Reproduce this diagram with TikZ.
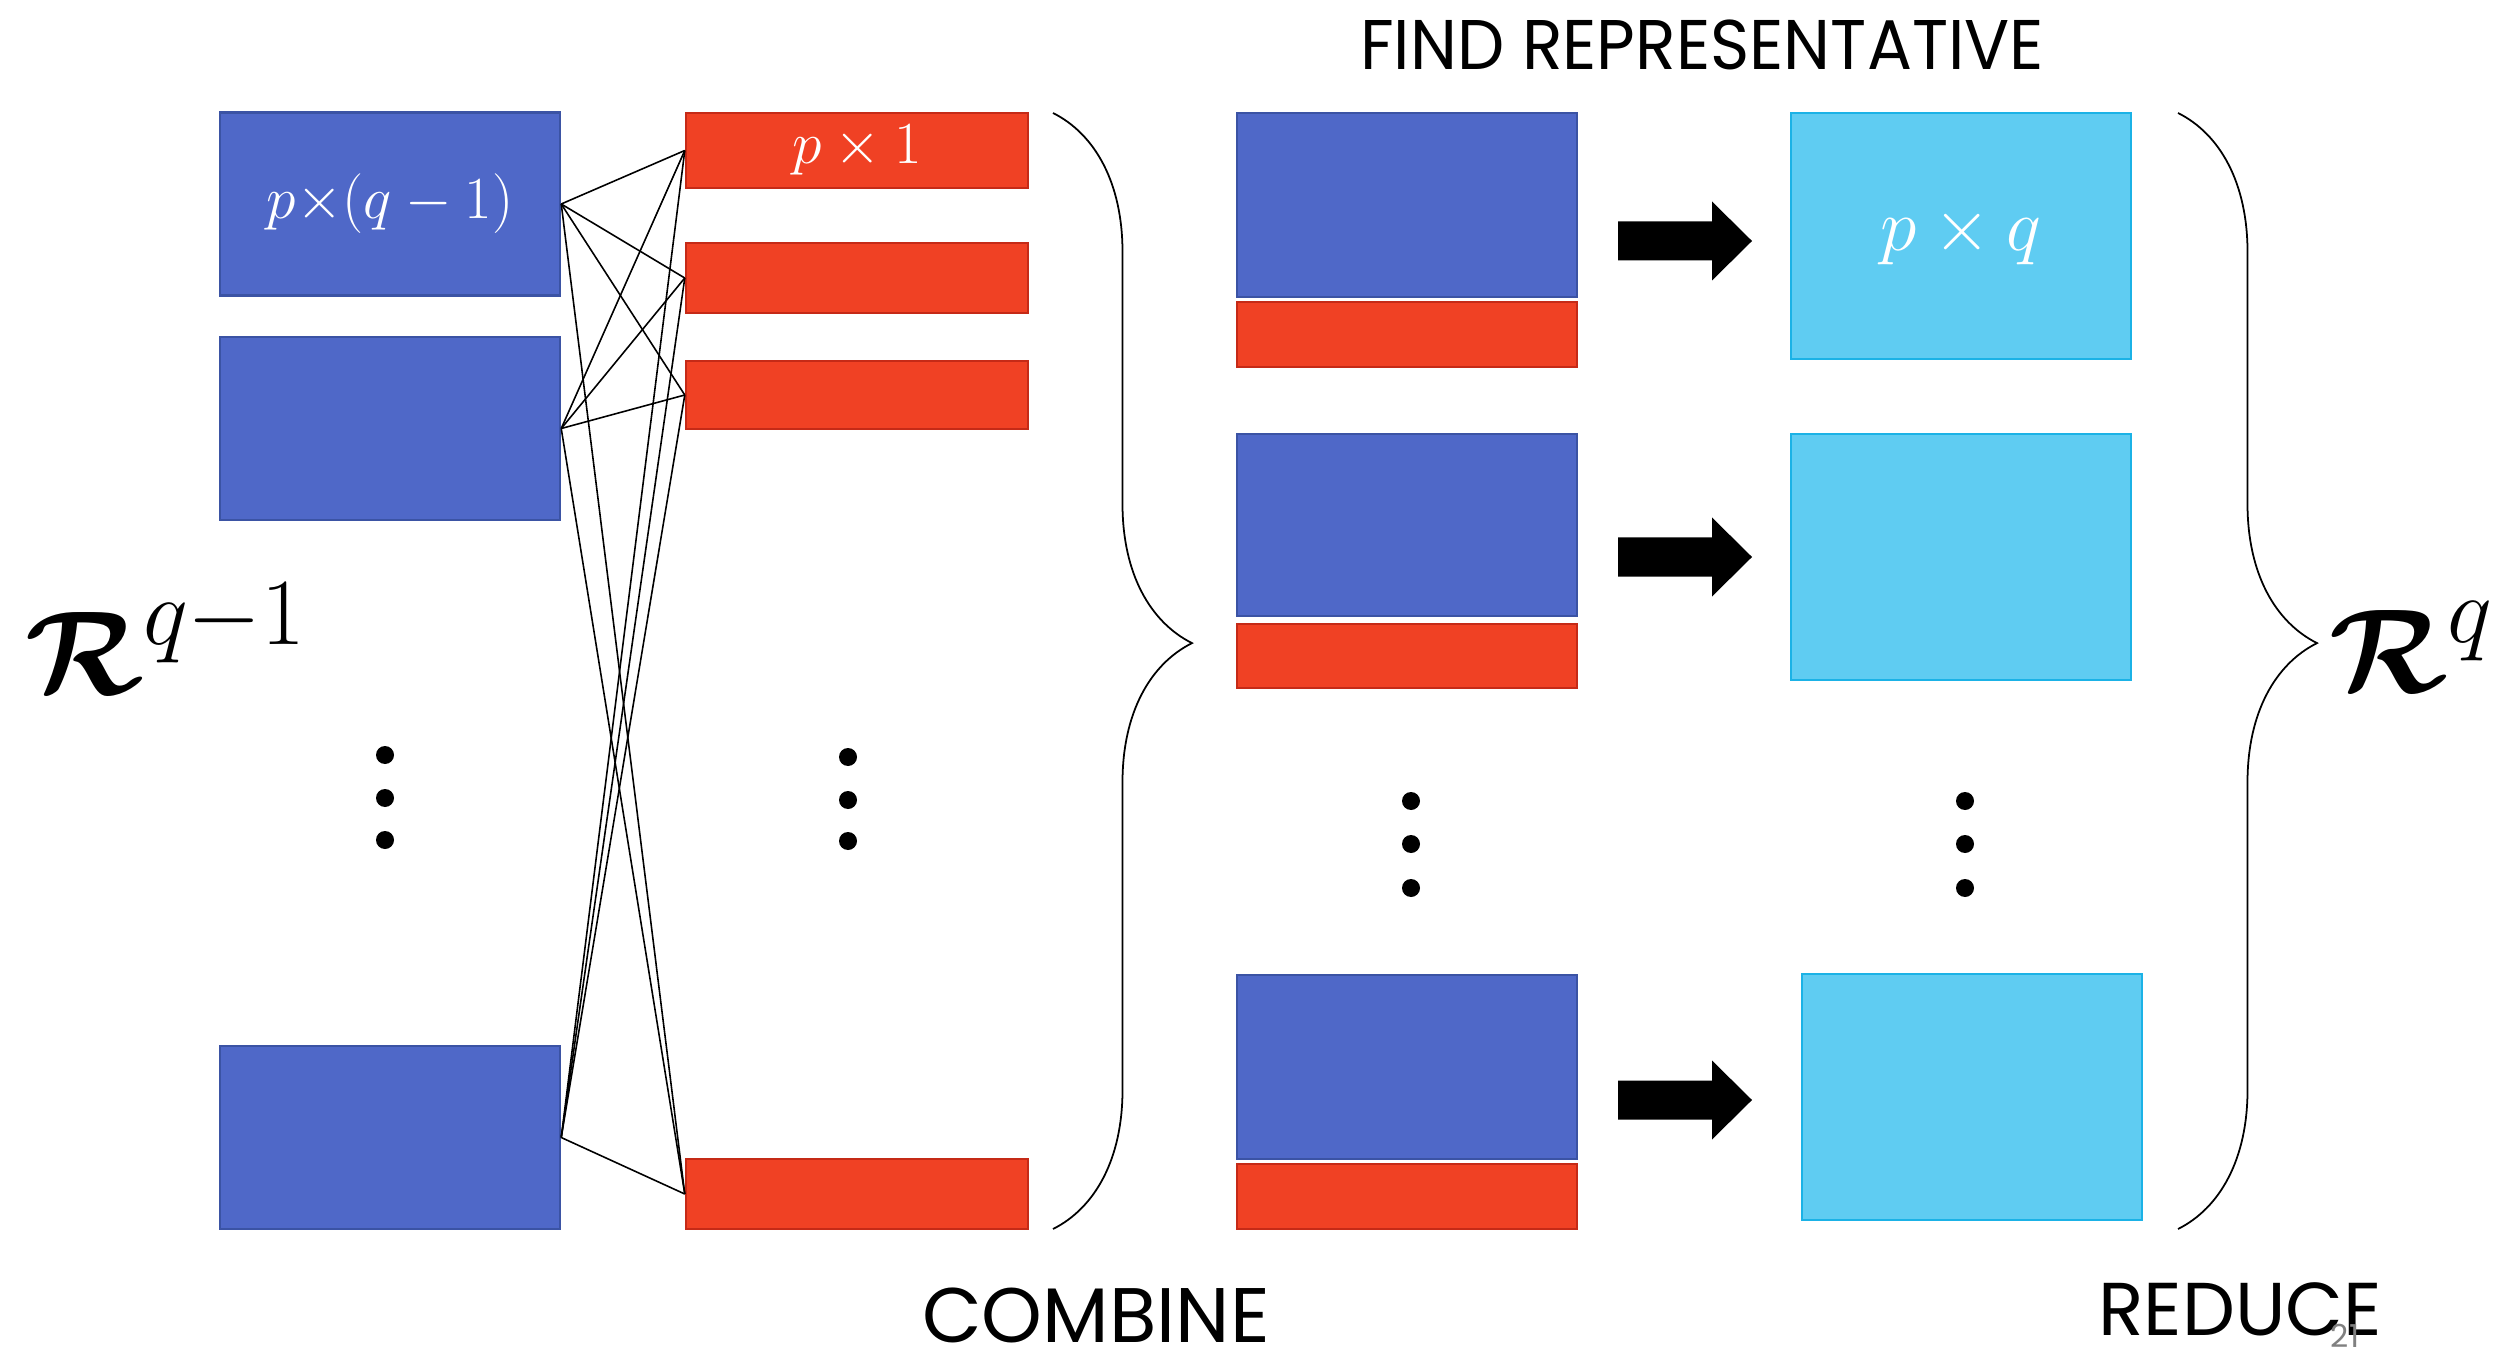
\RequirePackage{fix-cm}
\documentclass[tikz,border=0pt]{standalone}
\usepackage{fontspec}
\usepackage{bm}
\newfontfamily\capsfont{Poppins}
\newfontfamily\narrowcaps[FakeStretch=0.95]{Poppins}
\usetikzlibrary{decorations.pathreplacing}
\definecolor{blockblue}{HTML}{4F68C8}
\definecolor{blockblueline}{HTML}{3B53A4}
\definecolor{blockred}{HTML}{F04124}
\definecolor{blockredline}{HTML}{C52A17}
\definecolor{blockcyan}{HTML}{5FCCF2}
\definecolor{blockcyanline}{HTML}{1BB2E6}
\newcommand{\supsize}[1]{\mbox{\fontsize{27}{27}\selectfont $#1$}}
\begin{document}
\begin{tikzpicture}[
  bluebox/.style={draw=blockblueline, fill=blockblue, line width=0.7pt, minimum width=3.4cm, minimum height=1.83cm, inner sep=0pt, text=white},
  redbox/.style={draw=blockredline, fill=blockred, line width=0.7pt, minimum width=3.42cm, inner sep=0pt, text=white},
  cyanbox/.style={draw=blockcyanline, fill=blockcyan, line width=0.7pt, minimum width=3.4cm, minimum height=2.46cm, inner sep=0pt, text=white},
  dot/.style={circle, fill, inner sep=0pt, minimum size=0.18cm},
  link/.style={line width=0.45pt},
  bracket/.style={decorate, decoration={brace, amplitude=1.39cm, aspect=0.475}, line width=0.5pt}]
\path[use as bounding box, fill=white] (0,0) rectangle (25.03,13.53);
% left column: R^{q-1}
\node[bluebox] (old1) at (3.90,11.49){\fontsize{17}{17}\selectfont $p{\times}(q-1)$};
\node[bluebox] (old2) at (3.90,9.245){};
\node[bluebox] (old3) at (3.90,2.155){};
\node[dot] (olddot1) at (3.85,5.98){};
\node[dot] (olddot2) at (3.85,5.55){};
\node[dot] (olddot3) at (3.85,5.13){};
\node (rqold) at (1.66,7.14){\fontsize{34}{34}\selectfont $\bm{\mathcal{R}}^{\supsize{q{-}1}}$};
% columns p x 1
\node[redbox, minimum height=0.75cm] (col1) at (8.57,12.025){\fontsize{17}{17}\selectfont $p\times1$};
\node[redbox, minimum height=0.70cm] (col2) at (8.57,10.75){};
\node[redbox, minimum height=0.68cm] (col3) at (8.57,9.58){};
\node[redbox, minimum height=0.70cm] (col4) at (8.57,1.59){};
\node[dot] (coldot1) at (8.48,5.96){};
\node[dot] (coldot2) at (8.48,5.53){};
\node[dot] (coldot3) at (8.48,5.12){};
\draw[link](old1.east) -- (col1.west);
\draw[link](old1.east) -- (col2.west);
\draw[link](old1.east) -- (col3.west);
\draw[link](old1.east) -- (col4.west);
\draw[link](old2.east) -- (col1.west);
\draw[link](old2.east) -- (col2.west);
\draw[link](old2.east) -- (col3.west);
\draw[link](old2.east) -- (col4.west);
\draw[link](old3.east) -- (col1.west);
\draw[link](old3.east) -- (col2.west);
\draw[link](old3.east) -- (col3.west);
\draw[link](old3.east) -- (col4.west);
\draw[bracket] (10.53,12.40) -- (10.53,1.24);
% combined blocks
\node[bluebox, minimum height=1.84cm] (mb1) at (14.07,11.48){};
\node[redbox, minimum width=3.4cm, minimum height=0.65cm] (mr1) at (14.07,10.185){};
\node[bluebox, minimum height=1.82cm] (mb2) at (14.07,8.28){};
\node[redbox, minimum width=3.4cm, minimum height=0.64cm] (mr2) at (14.07,6.97){};
\node[bluebox, minimum height=1.84cm] (mb3) at (14.07,2.86){};
\node[redbox, minimum width=3.4cm, minimum height=0.65cm] (mr3) at (14.07,1.565){};
\node[dot] (mdot1) at (14.11,5.52){};
\node[dot] (mdot2) at (14.11,5.09){};
\node[dot] (mdot3) at (14.11,4.65){};
% block arrows
\coordinate (arr1) at (16.18,11.12);
\coordinate (arr2) at (16.18,7.96);
\coordinate (arr3) at (16.18,2.53);
\fill (arr1) ++(0,0.195) -- ++(0.94,0) -- ++(0,0.2) -- ++(0.40,-0.395) -- ++(-0.40,-0.395) -- ++(0,0.2) -- ++(-0.94,0) -- cycle;
\fill (arr2) ++(0,0.195) -- ++(0.94,0) -- ++(0,0.2) -- ++(0.40,-0.395) -- ++(-0.40,-0.395) -- ++(0,0.2) -- ++(-0.94,0) -- cycle;
\fill (arr3) ++(0,0.195) -- ++(0.94,0) -- ++(0,0.2) -- ++(0.40,-0.395) -- ++(-0.40,-0.395) -- ++(0,0.2) -- ++(-0.94,0) -- cycle;
% representatives: R^q
\node[cyanbox] (rep1) at (19.61,11.17){\fontsize{21}{21}\selectfont $p\times q$};
\node[cyanbox] (rep2) at (19.61,7.96){};
\node[cyanbox] (rep3) at (19.72,2.56){};
\node[dot] (repdot1) at (19.65,5.52){};
\node[dot] (repdot2) at (19.65,5.09){};
\node[dot] (repdot3) at (19.65,4.65){};
\draw[bracket] (21.78,12.40) -- (21.78,1.24);
\node (rqnew) at (24.12,7.06){\fontsize{34}{34}\selectfont $\bm{\mathcal{R}}^{\supsize{q}}$};
% captions
\node[font=\narrowcaps\fontsize{20}{20}\selectfont] (findrep) at (17.02,13.08){FIND REPRESENTATIVE};
\node[font=\capsfont\fontsize{22}{22}\selectfont] (combine) at (10.96,0.38){COMBINE};
\node[font=\capsfont\fontsize{21.3}{21.3}\selectfont] (reduce) at (22.40,0.44){REDUCE};
\node[text=gray, font=\capsfont\fontsize{9}{9}\selectfont] (pagenum) at (23.45,0.17){21};
\end{tikzpicture}
\end{document}
